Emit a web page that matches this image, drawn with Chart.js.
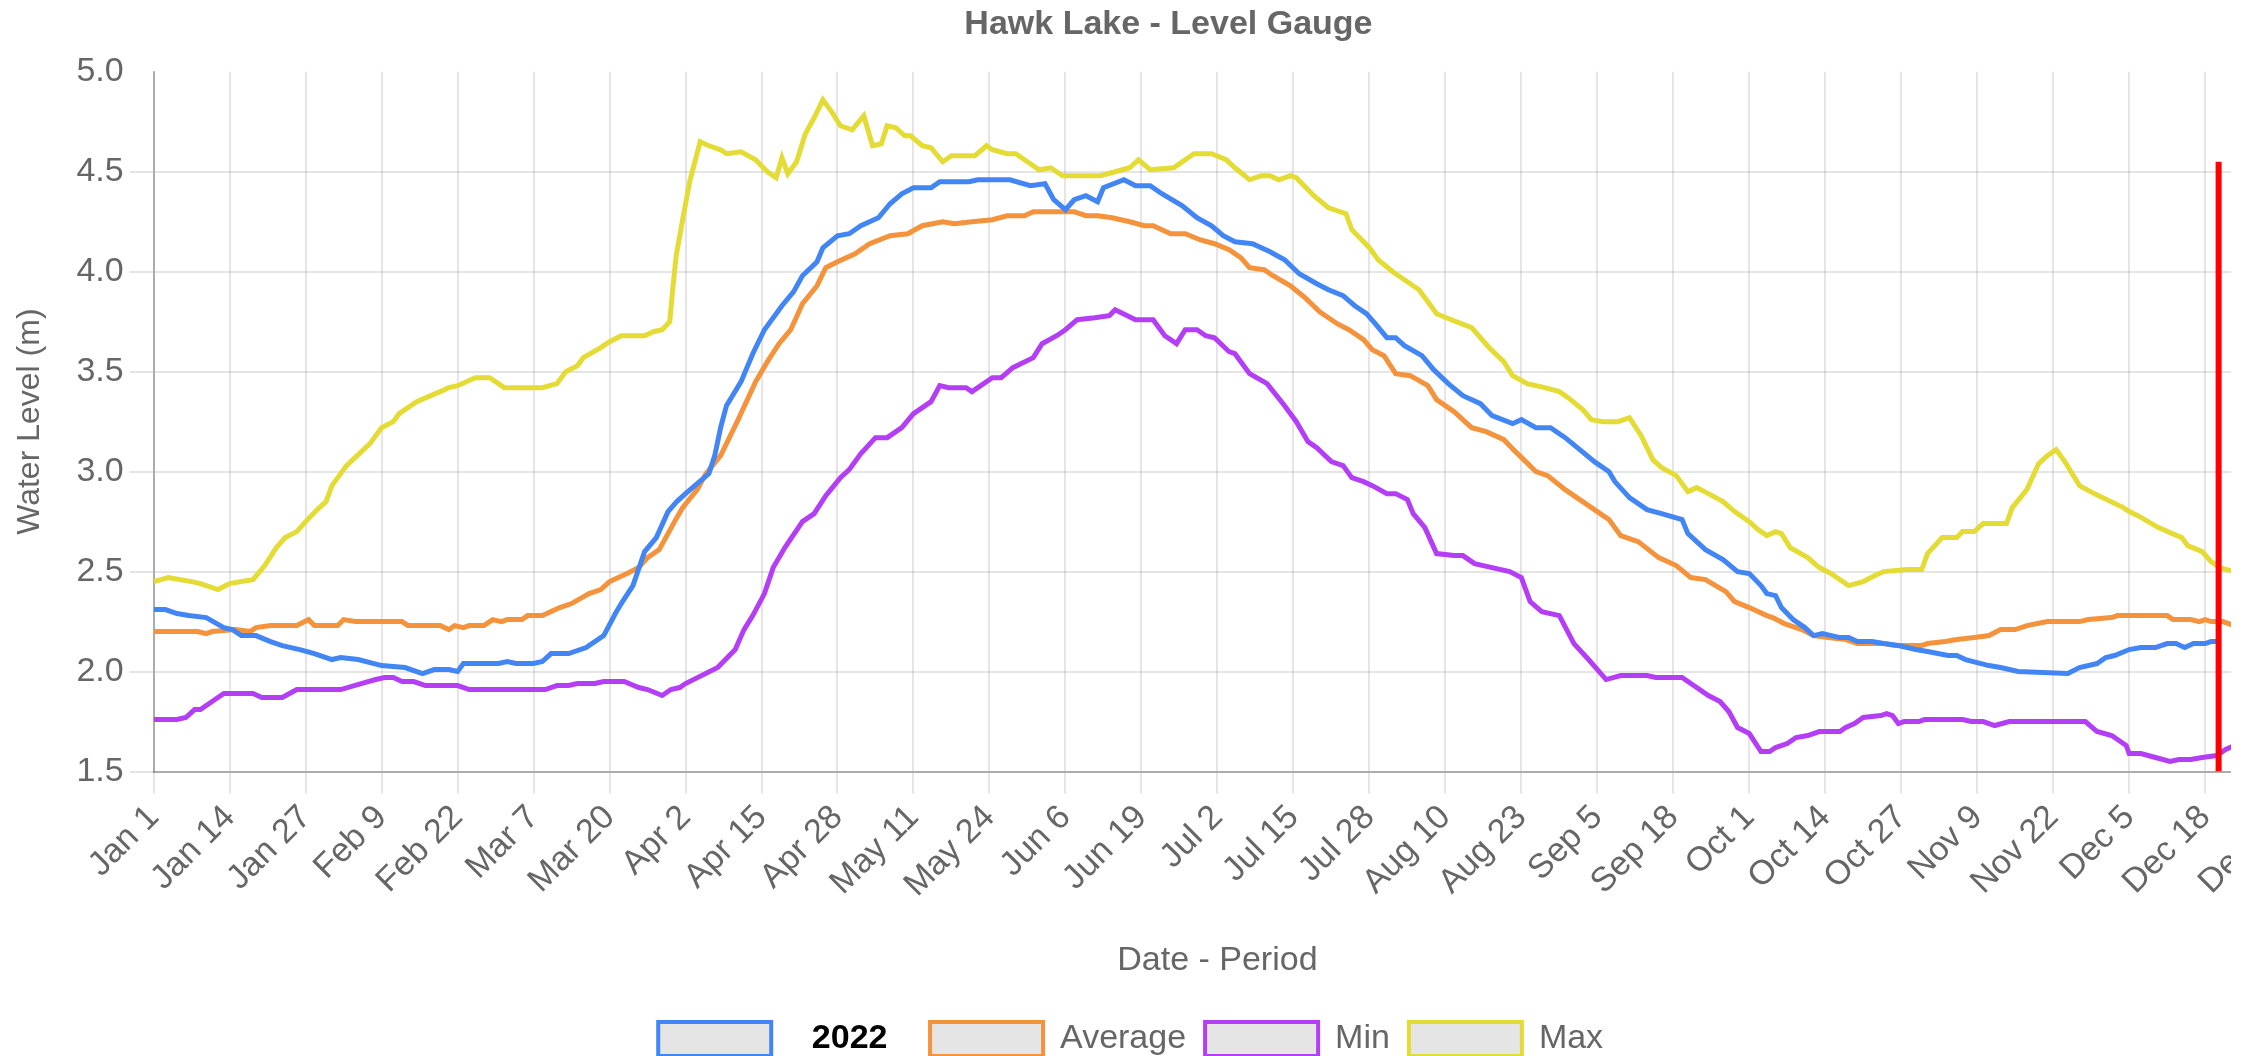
<!DOCTYPE html>
<html>
<head>
<meta charset="utf-8">
<title>Hawk Lake - Level Gauge</title>
<script src="https://cdn.jsdelivr.net/npm/chart.js@4.4.1/dist/chart.umd.min.js"></script>
<style>
  html, body { margin: 0; padding: 0; background: #fff; }
  #clip { position: absolute; left: 0; top: 0; width: 2231px; height: 1056px; overflow: hidden; background: #fff; }
  #wrap { position: relative; width: 2314px; height: 1066px; }
</style>
</head>
<body>
<div id="clip">
  <div id="wrap"><canvas id="chart"></canvas></div>
</div>
<script>
// x values are day-of-year indexes (0 = Jan 1)
const dateTicks = ['Jan 1', 'Jan 14', 'Jan 27', 'Feb 9', 'Feb 22', 'Mar 7', 'Mar 20', 'Apr 2', 'Apr 15',
  'Apr 28', 'May 11', 'May 24', 'Jun 6', 'Jun 19', 'Jul 2', 'Jul 15', 'Jul 28', 'Aug 10', 'Aug 23',
  'Sep 5', 'Sep 18', 'Oct 1', 'Oct 14', 'Oct 27', 'Nov 9', 'Nov 22', 'Dec 5', 'Dec 18', 'Dec 31'];

const days2022 = [0, 2, 4, 6, 9, 12, 13.5, 15, 17.5, 20, 22, 25, 27.5, 30.5, 32, 35, 39, 43, 46, 48, 50.5, 52, 53,
  59, 60.5, 62, 65, 66.5, 68, 71, 74, 77, 79, 80, 82, 84, 86, 88, 89.5, 91, 93, 95, 96, 97, 98, 100.5, 102.5,
  104.5, 107.5, 109.5, 111, 113.5, 114.5, 117, 119, 121, 124, 126, 128, 130, 133, 134.5, 139.5, 141, 144.5,
  146.5, 150, 152.5, 154, 156, 157.5, 159.5, 161.5, 162.5, 166, 168, 170.5, 172.5, 176, 178.5, 181, 183, 185,
  188, 191, 193.5, 196, 199, 201, 203.5, 205.5, 207.5, 209, 211, 212.5, 214, 217, 219, 221.5, 224, 227, 229,
  232.5, 234, 236.5, 239, 241.5, 244, 246.5, 249, 250, 252.5, 255.5, 258, 261.5, 262.5, 265.5, 268.5, 271,
  273, 275, 276, 277.5, 278.5, 280.5, 282.5, 284, 285.5, 288.5, 290, 291.5, 294, 296, 298.5, 301.5, 303.5,
  307, 308.5, 310, 314, 316, 319, 327.5, 329.5, 332.5, 334, 335.5, 338, 340, 342.5, 344.5, 346, 347.5, 349,
  351, 352, 353.3];
const level2022 = [2.31, 2.31, 2.29, 2.28, 2.27, 2.22, 2.21, 2.18, 2.18, 2.15, 2.13, 2.11, 2.09, 2.06, 2.07,
  2.06, 2.03, 2.02, 1.99, 2.01, 2.01, 2.00, 2.04, 2.04, 2.05, 2.04, 2.04, 2.05, 2.09, 2.09, 2.12, 2.18, 2.29,
  2.34, 2.43, 2.60, 2.67, 2.80, 2.85, 2.89, 2.94, 2.99, 3.08, 3.22, 3.33, 3.45, 3.59, 3.71, 3.83, 3.90, 3.98,
  4.05, 4.12, 4.18, 4.19, 4.23, 4.27, 4.34, 4.39, 4.42, 4.42, 4.45, 4.45, 4.46, 4.46, 4.46, 4.43, 4.44, 4.36,
  4.31, 4.36, 4.38, 4.35, 4.42, 4.46, 4.43, 4.43, 4.39, 4.33, 4.27, 4.23, 4.18, 4.15, 4.14, 4.10, 4.06, 3.99,
  3.94, 3.91, 3.88, 3.83, 3.79, 3.74, 3.67, 3.67, 3.63, 3.58, 3.51, 3.44, 3.38, 3.34, 3.28, 3.24, 3.26, 3.22,
  3.22, 3.17, 3.11, 3.05, 3.00, 2.95, 2.87, 2.81, 2.79, 2.76, 2.69, 2.61, 2.56, 2.50, 2.49, 2.43, 2.39, 2.38,
  2.32, 2.26, 2.22, 2.18, 2.19, 2.17, 2.17, 2.15, 2.15, 2.14, 2.13, 2.11, 2.10, 2.08, 2.08, 2.06, 2.03, 2.02,
  2.00, 1.99, 2.02, 2.04, 2.07, 2.08, 2.11, 2.12, 2.12, 2.14, 2.14, 2.12, 2.14, 2.14, 2.15, 2.15];

const daysAvg = [0, 7.5, 9, 10, 14, 16.5, 17.5, 20, 24.5, 26.5, 27.5, 31.5, 32.5, 34.5, 42.5, 43.5, 49, 50.5,
  51.5, 53, 54, 56.5, 58, 59.5, 60.5, 63, 64, 66.5, 69.5, 71.5, 74.5, 76.5, 78, 81, 83, 84.5, 86.5, 88, 89.5,
  90.5, 93, 94.5, 97, 100, 103, 105, 107, 109, 111, 113.5, 115, 117, 120, 122.5, 126, 129, 131.5, 135, 137,
  140, 143.5, 146, 149, 150.5, 157.5, 159.5, 161.5, 164, 167, 169.5, 171, 174, 176.5, 179, 181.5, 184, 186,
  187.5, 190, 191.5, 194.5, 197, 199.5, 202.5, 204.5, 207, 208.5, 210.5, 212.5, 215, 218, 219.5, 222.5, 225.5,
  228, 231, 233, 236.5, 238.5, 241.5, 244.5, 246.5, 249, 251, 254, 257.5, 260.5, 263, 265.5, 269, 270.5, 273,
  276, 277, 279, 282, 284, 286.5, 289.5, 291.5, 296, 298, 302.5, 303.5, 306.5, 308.5, 311.5, 314, 316, 318.5,
  320.5, 324, 329.5, 331, 335, 336, 344.5, 345.5, 348.5, 350, 351, 352, 354, 356];
const levelAvg = [2.20, 2.20, 2.19, 2.20, 2.21, 2.20, 2.22, 2.23, 2.23, 2.26, 2.23, 2.23, 2.26, 2.25, 2.25,
  2.23, 2.23, 2.21, 2.23, 2.22, 2.23, 2.23, 2.26, 2.25, 2.26, 2.26, 2.28, 2.28, 2.32, 2.34, 2.39, 2.41, 2.45,
  2.49, 2.52, 2.57, 2.61, 2.69, 2.77, 2.82, 2.91, 2.99, 3.08, 3.26, 3.45, 3.55, 3.64, 3.71, 3.84, 3.93, 4.02,
  4.05, 4.09, 4.14, 4.18, 4.19, 4.23, 4.25, 4.24, 4.25, 4.26, 4.28, 4.28, 4.30, 4.30, 4.28, 4.28, 4.27, 4.25,
  4.23, 4.23, 4.19, 4.19, 4.16, 4.14, 4.11, 4.07, 4.02, 4.01, 3.98, 3.93, 3.87, 3.80, 3.74, 3.71, 3.66, 3.61,
  3.58, 3.49, 3.48, 3.43, 3.36, 3.30, 3.22, 3.20, 3.16, 3.10, 3.00, 2.98, 2.91, 2.85, 2.81, 2.76, 2.68, 2.65,
  2.57, 2.53, 2.47, 2.46, 2.40, 2.35, 2.32, 2.28, 2.27, 2.24, 2.21, 2.18, 2.17, 2.16, 2.14, 2.14, 2.13, 2.13,
  2.14, 2.15, 2.16, 2.17, 2.18, 2.21, 2.21, 2.23, 2.25, 2.25, 2.26, 2.27, 2.28, 2.28, 2.26, 2.26, 2.25, 2.26,
  2.25, 2.25, 2.23];

const daysMin = [0, 4, 5.5, 7, 8, 9.5, 10.5, 12, 17, 18.5, 22, 24.5, 32, 35.5, 38, 39.5, 41, 42.5, 44.5, 46.5,
  52, 54, 67, 69, 71, 72.5, 75.5, 77, 80.5, 83, 84.5, 87, 88.5, 90, 91, 96.5, 99.5, 101, 102.5, 104.5, 106,
  108, 111, 113, 115, 117.5, 119, 121, 123.5, 125.5, 128, 130, 133, 134.5, 136, 139, 140, 143.5, 145, 147,
  150.5, 152, 154.5, 156, 158, 161, 163.5, 164.5, 168, 171, 173, 175, 176.5, 178.5, 180, 181.5, 184, 185,
  187.5, 190.5, 193.5, 195.5, 197.5, 199, 201.5, 203.5, 205, 207, 208.5, 211, 212.5, 214.5, 215.5, 217.5,
  219.5, 222.5, 224, 226, 229, 232, 234, 235.5, 237.5, 240.5, 243, 245.5, 248.5, 251, 255.5, 257, 261.5, 264,
  266, 268, 269.5, 271, 273, 275, 276.5, 277.5, 279.5, 281, 283, 285, 288.5, 289.5, 291, 292.5, 295.5, 296.5,
  297.5, 298.5, 299.5, 302, 303, 309.5, 311, 313, 315, 317.5, 330.5, 332.5, 335, 337.5, 338, 340, 342.5, 345,
  346.5, 348.5, 350.5, 353, 354.5, 356];
const levelMin = [1.76, 1.76, 1.77, 1.81, 1.81, 1.84, 1.86, 1.89, 1.89, 1.87, 1.87, 1.91, 1.91, 1.94, 1.96,
  1.97, 1.97, 1.95, 1.95, 1.93, 1.93, 1.91, 1.91, 1.93, 1.93, 1.94, 1.94, 1.95, 1.95, 1.92, 1.91, 1.88, 1.91,
  1.92, 1.94, 2.02, 2.11, 2.21, 2.28, 2.39, 2.52, 2.62, 2.75, 2.79, 2.88, 2.97, 3.01, 3.09, 3.17, 3.17, 3.22,
  3.29, 3.35, 3.43, 3.42, 3.42, 3.40, 3.47, 3.47, 3.52, 3.57, 3.64, 3.68, 3.71, 3.76, 3.77, 3.78, 3.81, 3.76,
  3.76, 3.68, 3.64, 3.71, 3.71, 3.68, 3.67, 3.60, 3.59, 3.49, 3.44, 3.33, 3.25, 3.15, 3.12, 3.05, 3.03, 2.97,
  2.95, 2.93, 2.89, 2.89, 2.86, 2.79, 2.72, 2.59, 2.58, 2.58, 2.54, 2.52, 2.50, 2.47, 2.35, 2.30, 2.28, 2.14,
  2.06, 1.96, 1.98, 1.98, 1.97, 1.97, 1.92, 1.88, 1.85, 1.80, 1.72, 1.69, 1.60, 1.60, 1.62, 1.64, 1.67, 1.68,
  1.70, 1.70, 1.72, 1.74, 1.77, 1.78, 1.79, 1.78, 1.74, 1.75, 1.75, 1.76, 1.76, 1.75, 1.75, 1.73, 1.75, 1.75,
  1.70, 1.68, 1.63, 1.59, 1.59, 1.57, 1.55, 1.56, 1.56, 1.57, 1.58, 1.61, 1.63];

const daysMax = [0, 2.5, 6.5, 8, 11, 13, 15, 17, 19, 21, 22.5, 24.5, 26, 28, 29.5, 30.5, 33, 37, 39, 41, 42,
  43.5, 45, 49, 50.5, 52, 55, 57.5, 60, 66.5, 69, 70.5, 72.5, 73.5, 76.5, 78, 80, 84, 85.5, 87, 88.3, 88.8,
  89.4, 90.5, 91.7, 93.5, 95, 97, 98, 100.5, 103, 105, 106.5, 107.5, 108.5, 110, 111.5, 113, 114.5, 116, 117.5,
  119.5, 121.5, 123, 124.5, 125.5, 127, 128.5, 129.5, 131.5, 133, 135, 136.5, 140.5, 142.5, 143.5, 146, 147.5,
  149, 151.5, 153.5, 155.5, 162, 164.5, 167, 168.5, 170.5, 174.5, 178, 181, 183.5, 185, 187.5, 189.5, 191,
  192.5, 194.5, 195.5, 198.5, 201, 204, 205, 208, 209.5, 212, 214.5, 216.5, 219.5, 222, 225.5, 228.5, 231,
  232.5, 235, 238, 240.5, 242, 244.5, 246, 248, 250.5, 252.5, 254.5, 256.5, 258, 260.5, 262.5, 264, 266,
  268.5, 270.5, 273, 274.5, 276, 277.5, 278.5, 280, 283, 285, 287, 290, 292.5, 294.5, 296, 300, 302.5, 303.5,
  306, 308.5, 309.5, 311.5, 313, 317, 318, 320.5, 322.5, 324, 325.5, 327, 329.5, 332, 337, 338, 339.5, 343,
  347, 348, 350.5, 352, 353.5, 356];
const levelMax = [2.45, 2.47, 2.45, 2.44, 2.41, 2.44, 2.45, 2.46, 2.53, 2.62, 2.67, 2.70, 2.75, 2.81, 2.85,
  2.93, 3.03, 3.14, 3.22, 3.25, 3.29, 3.32, 3.35, 3.40, 3.42, 3.43, 3.47, 3.47, 3.42, 3.42, 3.44, 3.50, 3.53,
  3.57, 3.62, 3.65, 3.68, 3.68, 3.70, 3.71, 3.75, 3.91, 4.08, 4.26, 4.45, 4.65, 4.63, 4.61, 4.59, 4.60, 4.56,
  4.50, 4.47, 4.57, 4.49, 4.55, 4.69, 4.77, 4.86, 4.80, 4.73, 4.71, 4.78, 4.63, 4.64, 4.73, 4.72, 4.68, 4.68,
  4.63, 4.62, 4.55, 4.58, 4.58, 4.63, 4.61, 4.59, 4.59, 4.56, 4.51, 4.52, 4.48, 4.48, 4.50, 4.52, 4.56, 4.51,
  4.52, 4.59, 4.59, 4.56, 4.52, 4.46, 4.48, 4.48, 4.46, 4.48, 4.47, 4.38, 4.32, 4.29, 4.21, 4.12, 4.06, 4.00,
  3.95, 3.91, 3.79, 3.76, 3.72, 3.62, 3.55, 3.48, 3.44, 3.42, 3.40, 3.37, 3.31, 3.26, 3.25, 3.25, 3.27, 3.18,
  3.06, 3.02, 2.98, 2.90, 2.92, 2.89, 2.85, 2.80, 2.75, 2.71, 2.68, 2.70, 2.69, 2.62, 2.57, 2.52, 2.49, 2.43,
  2.45, 2.48, 2.50, 2.51, 2.51, 2.59, 2.67, 2.67, 2.70, 2.70, 2.74, 2.74, 2.82, 2.91, 3.04, 3.08, 3.11, 3.05,
  2.93, 2.89, 2.82, 2.80, 2.78, 2.72, 2.67, 2.63, 2.60, 2.55, 2.52, 2.50];

// red "today" marker
const todayDay = 353.3;
const todayRange = [1.5, 4.55];

const FONT = "'Liberation Sans', Arial, sans-serif";
const GREY = '#666';

function toPoints(xs, ys) {
  return xs.map((x, i) => ({ x: x, y: ys[i] }));
}

function lineSet(label, color, xs, ys) {
  return {
    label: label,
    data: toPoints(xs, ys),
    borderColor: color,
    backgroundColor: 'rgba(0,0,0,0.1)',
    borderWidth: 5,
    pointRadius: 0,
    tension: 0,
    fill: false,
    order: 1
  };
}

// draw the "2022" legend label in bold black over its reserved slot
const boldFirstLabel = {
  id: 'boldFirstLabel',
  afterDraw(chart) {
    const legend = chart.legend;
    if (!legend || !legend.legendHitBoxes || !legend.legendHitBoxes.length) return;
    const hb = legend.legendHitBoxes[0];
    const textLeft = hb.left + 113 + 17;
    const textRight = hb.left + hb.width;
    const ctx = chart.ctx;
    ctx.save();
    ctx.font = 'bold 34px ' + FONT;
    ctx.fillStyle = '#000';
    ctx.textAlign = 'center';
    ctx.textBaseline = 'middle';
    ctx.fillText('2022', (textLeft + textRight) / 2, hb.top + hb.height / 2);
    ctx.restore();
  }
};

new Chart(document.getElementById('chart'), {
  type: 'line',
  data: {
    datasets: [
      lineSet('2022', 'rgb(66,133,244)', days2022, level2022),
      lineSet('Average', 'rgb(245,146,60)', daysAvg, levelAvg),
      lineSet('Min', 'rgb(180,62,245)', daysMin, levelMin),
      lineSet('Max', 'rgb(228,220,52)', daysMax, levelMax),
      {
        label: 'Today',
        data: [{ x: todayDay, y: todayRange[0] }, { x: todayDay, y: todayRange[1] }],
        borderColor: '#ff0000',
        borderWidth: 6,
        pointRadius: 0,
        fill: false,
        order: 0
      }
    ]
  },
  plugins: [boldFirstLabel],
  options: {
    responsive: true,
    maintainAspectRatio: false,
    animation: false,
    layout: { padding: { left: 4, right: 0, top: 0, bottom: 0 } },
    plugins: {
      title: {
        display: true,
        text: '  Hawk Lake - Level Gauge',
        color: GREY,
        font: { family: FONT, size: 34, weight: 'bold' },
        padding: { top: 4, bottom: 27 }
      },
      legend: {
        position: 'bottom',
        labels: {
          color: GREY,
          font: { family: FONT, size: 34 },
          boxWidth: 113,
          boxHeight: 34,
          padding: 19,
          filter: (item) => item.datasetIndex < 4,
          generateLabels(chart) {
            const items = Chart.defaults.plugins.legend.labels.generateLabels(chart);
            items.forEach((item) => {
              item.lineWidth = 4;
              if (item.datasetIndex === 0) {
                item.text = '   2022  ';
                item.fontColor = 'rgba(0,0,0,0)';
              }
              if (item.datasetIndex === 3) {
                item.text = 'Max      ';
              }
            });
            return items;
          }
        }
      },
      tooltip: { enabled: false }
    },
    scales: {
      x: {
        type: 'linear',
        min: 0,
        max: 364,
        grid: { color: 'rgba(0,0,0,0.1)', lineWidth: 2, tickLength: 22 },
        border: { color: 'rgba(0,0,0,0.25)', width: 2 },
        ticks: {
          stepSize: 13,
          autoSkip: false,
          minRotation: 45,
          maxRotation: 45,
          padding: 4,
          color: GREY,
          font: { family: FONT, size: 34 },
          callback: (v) => dateTicks[Math.round(v / 13)]
        },
        title: {
          display: true,
          text: 'Date - Period',
          color: GREY,
          font: { family: FONT, size: 34 },
          padding: { top: 31, bottom: 22 }
        }
      },
      y: {
        min: 1.5,
        max: 5.0,
        grid: {
          color: (c) => (c.tick && c.tick.value === 5 ? 'rgba(0,0,0,0)' : 'rgba(0,0,0,0.1)'),
          lineWidth: 2,
          tickLength: 24
        },
        border: { color: 'rgba(0,0,0,0.25)', width: 2 },
        ticks: {
          stepSize: 0.5,
          padding: 6,
          color: GREY,
          font: { family: FONT, size: 34 },
          callback: (v) => v.toFixed(1)
        },
        title: {
          display: true,
          text: 'Water Level (m)',
          color: GREY,
          font: { family: FONT, size: 32 },
          padding: { top: 7, bottom: 21 }
        }
      }
    }
  }
});
</script>
</body>
</html>
